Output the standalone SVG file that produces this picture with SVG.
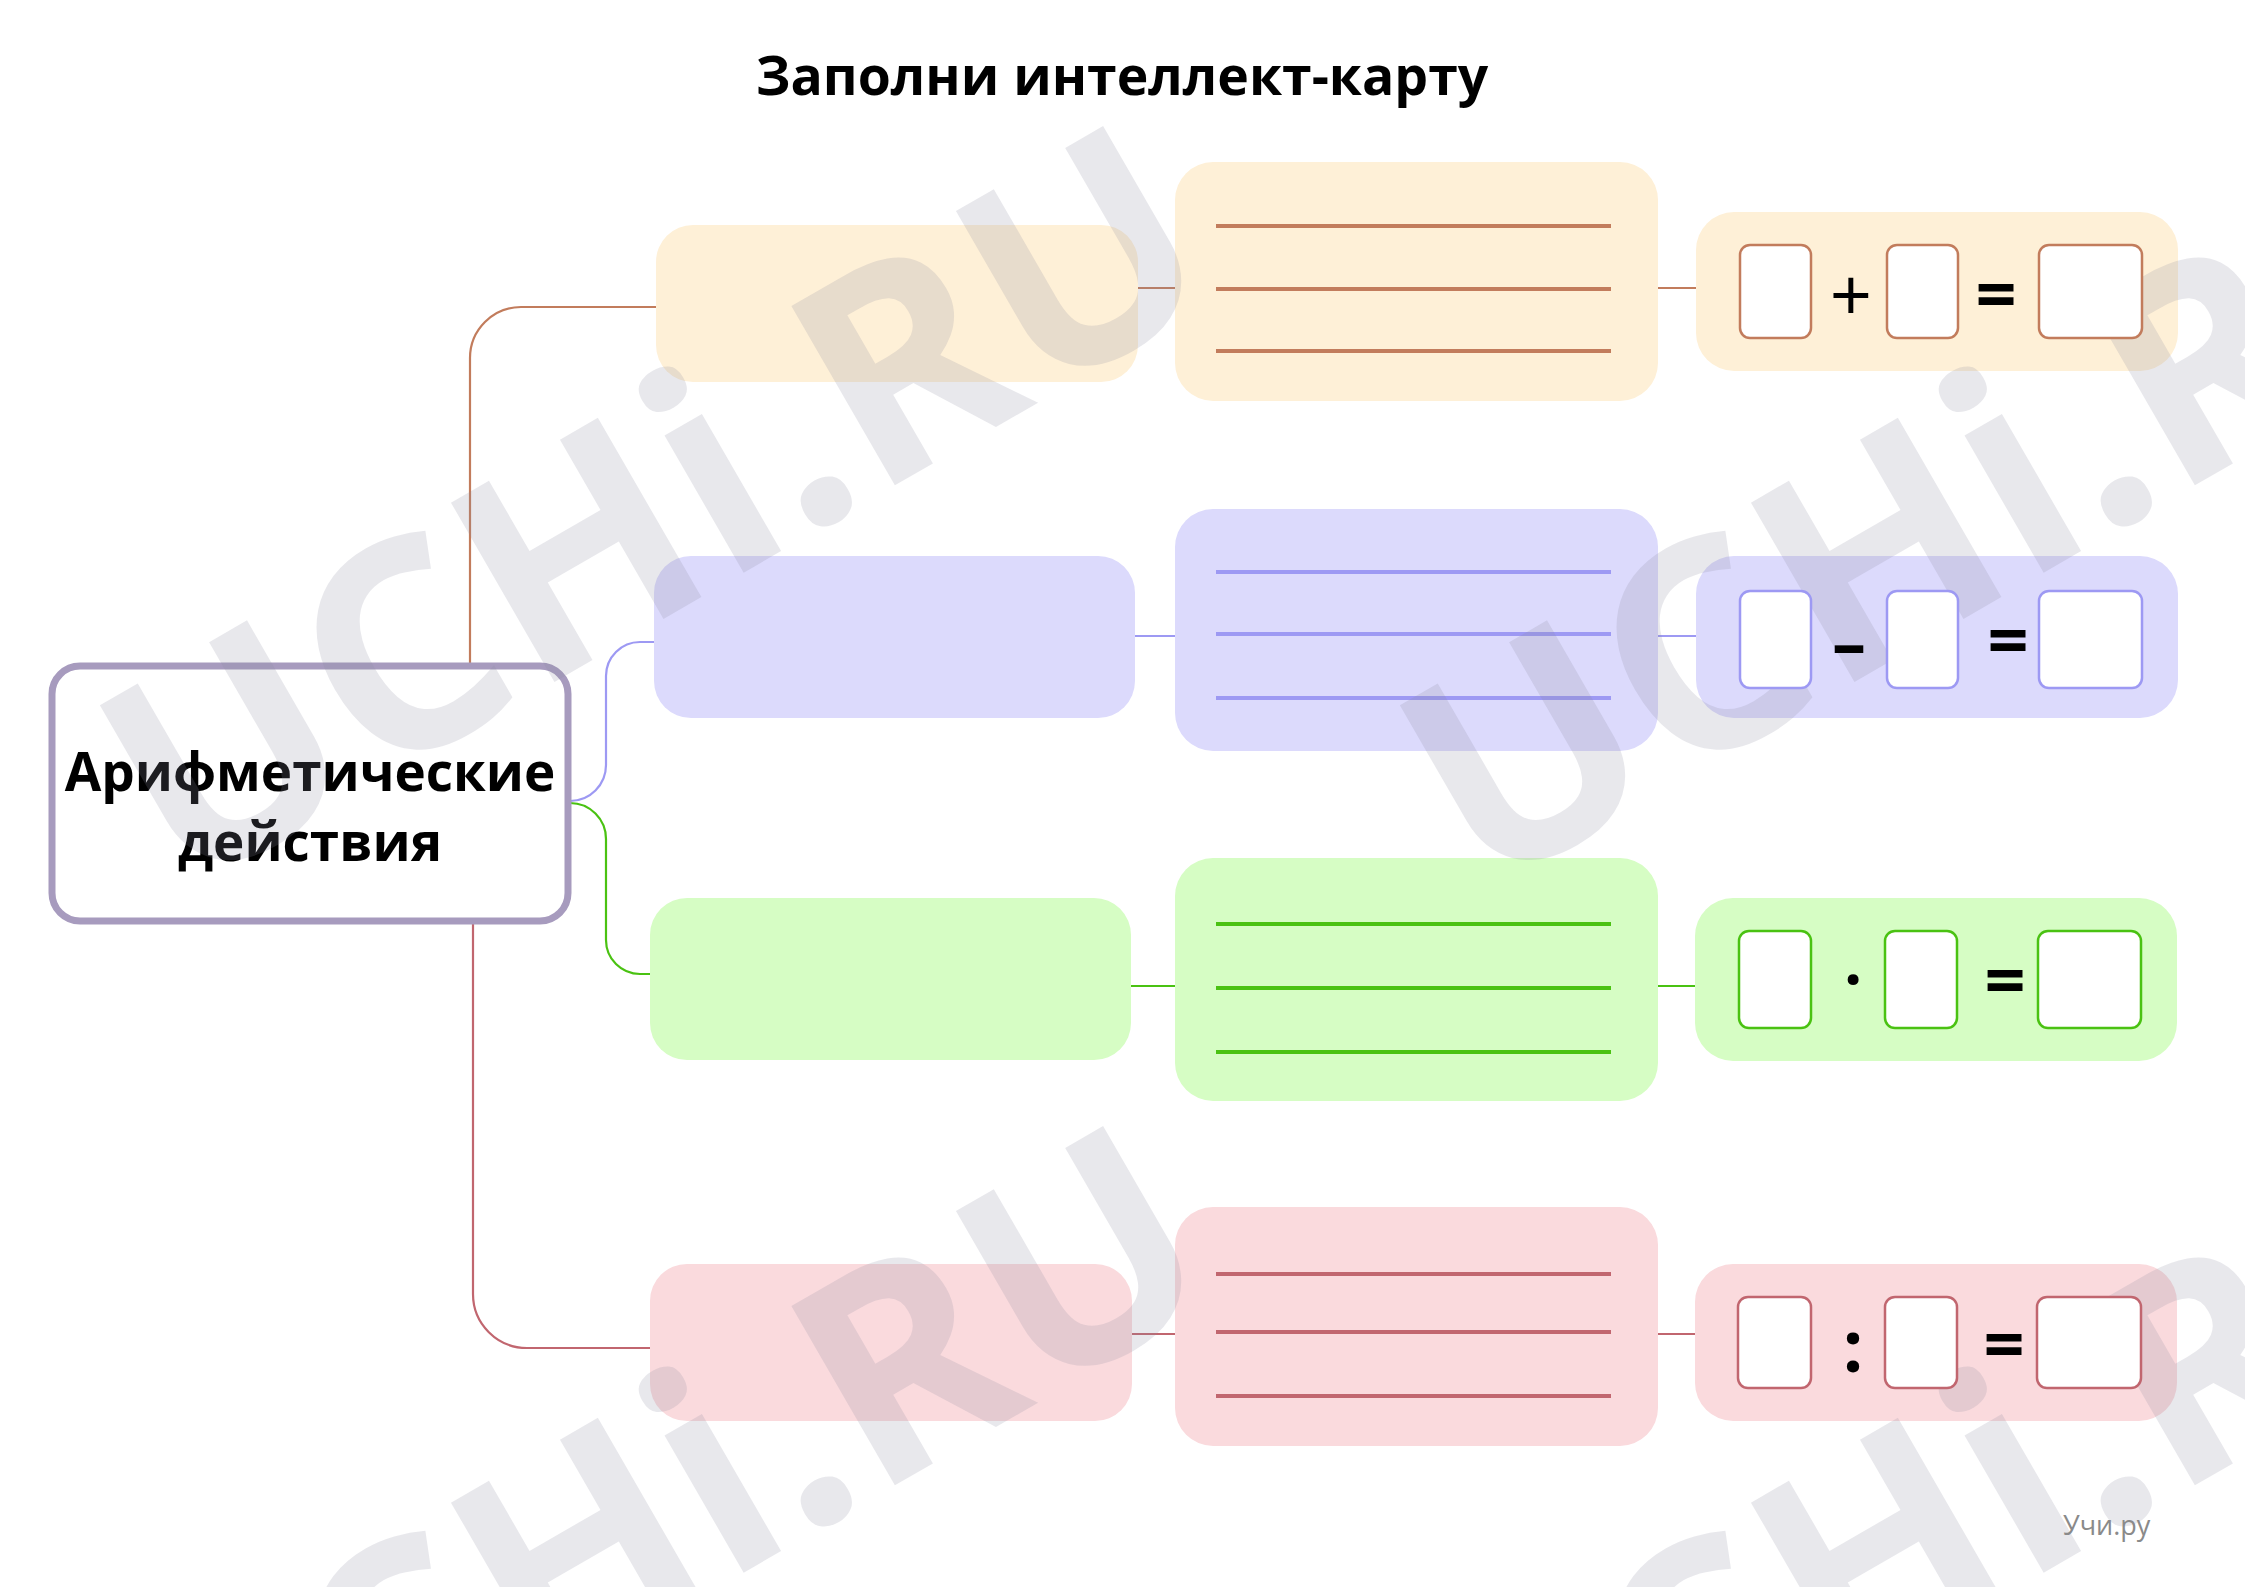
<svg xmlns="http://www.w3.org/2000/svg" width="2245" height="1587" viewBox="0 0 2245 1587">
<style>
.title{font-family:"Open Sans","Noto Sans",sans-serif;font-weight:700;font-size:53.5px;fill:#000;text-anchor:middle}
.center{font-family:"Open Sans","Noto Sans",sans-serif;font-weight:700;font-size:53px;fill:#000;text-anchor:middle}
.op{font-family:"Open Sans","Noto Sans",sans-serif;fill:#000;text-anchor:middle}
.wm{font-family:"Open Sans","Noto Sans",sans-serif;font-weight:700;font-size:290px;fill:#8E8E9E;fill-opacity:0.2;text-anchor:middle}
.brand{font-family:"Open Sans","Noto Sans",sans-serif;font-size:27px;fill:#8A8A8A}
.conn{fill:none;stroke-width:2.2}
.o-fill{fill:#FEF0D7}.o-str{stroke:#C27C5C}
.p-fill{fill:#DCDAFC}.p-str{stroke:#9D99F3}
.g-fill{fill:#D6FDC4}.g-str{stroke:#4AC212}
.r-fill{fill:#FADADD}.r-str{stroke:#C1666F}
.rule{stroke-width:4;fill:none}
.slot{fill:#fff;stroke-width:2.5}
</style>

<text class="title" x="1122" y="95">Заполни интеллект-карту</text>

<g id="connectors">
  <path class="conn o-str" d="M470,663 V358 A51,51 0 0 1 521,307 H658"/>
  <path class="conn o-str" d="M1136,288 H1177 M1656,288 H1697"/>
  <path class="conn p-str" d="M570,801 A36,36 0 0 0 606,765 V676 A34,34 0 0 1 640,642 H656"/>
  <path class="conn p-str" d="M1133,636 H1177 M1656,636 H1697"/>
  <path class="conn g-str" d="M570,803 A36,36 0 0 1 606,839 V940 A34,34 0 0 0 640,974 H652"/>
  <path class="conn g-str" d="M1129,986 H1177 M1656,986 H1697"/>
  <path class="conn r-str" d="M473,921 V1294 A54,54 0 0 0 527,1348 H652" stroke-width="2.6"/>
  <path class="conn r-str" d="M1130,1334 H1177 M1656,1334 H1697" stroke-width="2.6"/>
</g>

<g id="node-center">
  <rect x="52" y="666" width="516" height="255" rx="28" fill="#fff" stroke="#A79BBE" stroke-width="7"/>
  <text class="center" x="310" y="791">Арифметические</text>
  <text class="center" x="310" y="861">действия</text>
</g>

<g id="node-add-name"><rect class="o-fill" x="656" y="225" width="482" height="157" rx="37"/></g>
<g id="node-add-lines">
  <rect class="o-fill" x="1175" y="162" width="483" height="239" rx="38"/>
  <path class="rule o-str" d="M1216,226 H1611 M1216,289 H1611 M1216,351 H1611"/>
</g>
<g id="node-add-eq"><rect class="o-fill" x="1696" y="212" width="482" height="159" rx="38"/></g>

<g id="node-sub-name"><rect class="p-fill" x="654" y="556" width="481" height="162" rx="37"/></g>
<g id="node-sub-lines">
  <rect class="p-fill" x="1175" y="509" width="483" height="242" rx="38"/>
  <path class="rule p-str" d="M1216,572 H1611 M1216,634 H1611 M1216,698 H1611"/>
</g>
<g id="node-sub-eq"><rect class="p-fill" x="1696" y="556" width="482" height="162" rx="38"/></g>

<g id="node-mul-name"><rect class="g-fill" x="650" y="898" width="481" height="162" rx="37"/></g>
<g id="node-mul-lines">
  <rect class="g-fill" x="1175" y="858" width="483" height="243" rx="38"/>
  <path class="rule g-str" d="M1216,924 H1611 M1216,988 H1611 M1216,1052 H1611"/>
</g>
<g id="node-mul-eq"><rect class="g-fill" x="1695" y="898" width="482" height="163" rx="38"/></g>

<g id="node-div-name"><rect class="r-fill" x="650" y="1264" width="482" height="157" rx="37"/></g>
<g id="node-div-lines">
  <rect class="r-fill" x="1175" y="1207" width="483" height="239" rx="38"/>
  <path class="rule r-str" d="M1216,1274 H1611 M1216,1332 H1611 M1216,1396 H1611"/>
</g>
<g id="node-div-eq"><rect class="r-fill" x="1695" y="1264" width="482" height="157" rx="38"/></g>

<g id="watermark">
  <text class="wm" x="705" y="595" transform="rotate(-30 705 595)">UCHi.RU</text>
  <text class="wm" x="2005" y="595" transform="rotate(-30 2005 595)">UCHi.RU</text>
  <text class="wm" x="705" y="1595" transform="rotate(-30 705 1595)">UCHi.RU</text>
  <text class="wm" x="2005" y="1595" transform="rotate(-30 2005 1595)">UCHi.RU</text>
</g>

<g id="eq-add-slots">
  <rect class="slot o-str" x="1740" y="245" width="71" height="93" rx="10"/>
  <rect class="slot o-str" x="1887" y="245" width="71" height="93" rx="10"/>
  <rect class="slot o-str" x="2039" y="245" width="103" height="93" rx="10"/>
  <text class="op" x="1851" y="321" font-size="74">+</text>
  <text class="op" x="1996" y="320" font-size="72" font-weight="700">=</text>
</g>
<g id="eq-sub-slots">
  <rect class="slot p-str" x="1740" y="591" width="71" height="97" rx="10"/>
  <rect class="slot p-str" x="1887" y="591" width="71" height="97" rx="10"/>
  <rect class="slot p-str" x="2039" y="591" width="103" height="97" rx="10"/>
  <text class="op" x="1849" y="668" font-size="68" font-weight="700">–</text>
  <text class="op" x="2008" y="666" font-size="72" font-weight="700">=</text>
</g>
<g id="eq-mul-slots">
  <rect class="slot g-str" x="1739" y="931" width="72" height="97" rx="10"/>
  <rect class="slot g-str" x="1885" y="931" width="72" height="97" rx="10"/>
  <rect class="slot g-str" x="2038" y="931" width="103" height="97" rx="10"/>
  <text class="op" x="1853" y="1002" font-size="64" font-weight="700">·</text>
  <text class="op" x="2005" y="1006" font-size="72" font-weight="700">=</text>
</g>
<g id="eq-div-slots">
  <rect class="slot r-str" x="1738" y="1297" width="73" height="91" rx="10"/>
  <rect class="slot r-str" x="1885" y="1297" width="72" height="91" rx="10"/>
  <rect class="slot r-str" x="2037" y="1297" width="104" height="91" rx="10"/>
  <text class="op" x="1853" y="1372" font-size="72" font-weight="700">:</text>
  <text class="op" x="2004" y="1370" font-size="72" font-weight="700">=</text>
</g>

<text class="brand" x="2063" y="1535">Учи.ру</text>
</svg>
